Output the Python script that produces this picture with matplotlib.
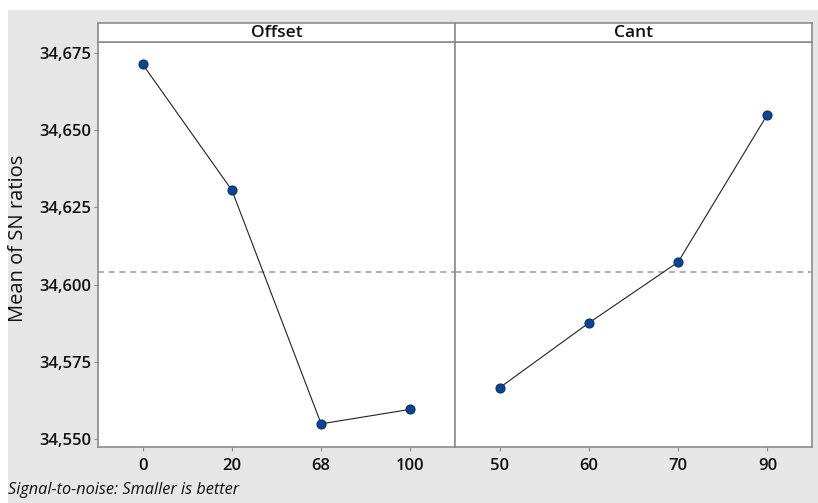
import numpy as np
import matplotlib.pyplot as plt

# Data
offset_levels = ['0', '20', '68', '100']
offset_sn = [34.6714, 34.6306, 34.5549, 34.5596]
cant_levels = ['50', '60', '70', '90']
cant_sn = [34.5666, 34.5876, 34.6073, 34.6551]
overall_mean = 34.6041
yticks = [34.550, 34.575, 34.600, 34.625, 34.650, 34.675]

W, H = 818, 503
fig = plt.figure(figsize=(W / 100, H / 100), dpi=100)
fig.patch.set_facecolor('white')
plt.rcParams['font.family'] = ['Open Sans', 'DejaVu Sans']

# gray background panel
bg = fig.add_axes([8 / W, 0, 1 - 8 / W, 1 - 10 / H])
bg.set_facecolor('#e6e6e6')
bg.set_xticks([])
bg.set_yticks([])
for s in bg.spines.values():
    s.set_visible(False)
bg.set_zorder(-10)

def px(x0, y0, x1, y1):
    return [x0 / W, 1 - y1 / H, (x1 - x0) / W, (y1 - y0) / H]

edge = '#8c8c8c'
txt = '#111111'
panels = [('Offset', offset_levels, offset_sn, 98, 455),
          ('Cant', cant_levels, cant_sn, 455, 812)]

for i, (name, levels, vals, x0, x1) in enumerate(panels):
    ax = fig.add_axes(px(x0, 42, x1, 447))
    ax.set_facecolor('white')
    pos = np.arange(1, len(levels) + 1)
    ax.axhline(overall_mean, color='#9a9a9a', ls=(0, (4, 3)), lw=1.1, zorder=1)
    ax.plot(pos, vals, color='#222222', lw=0.8, zorder=2)
    ax.plot(pos, vals, 'o', ms=6.5, mfc='#0a4595', mec='#06306e', mew=0.8, zorder=3)
    ax.set_xlim(0.5, 4.5)
    ax.set_ylim(34.5474, 34.6786)
    ax.set_xticks(pos)
    ax.set_xticklabels(levels, fontsize=12, fontweight='semibold', color=txt)
    for s in ax.spines.values():
        s.set_color(edge)
        s.set_linewidth(1.2)
    ax.tick_params(axis='x', length=3, color=edge, pad=5)
    if i == 0:
        ax.set_yticks(yticks)
        ax.set_yticklabels([f'{v:.3f}'.replace('.', ',') for v in yticks],
                           fontsize=12, fontweight='semibold', color=txt)
        ax.tick_params(axis='y', length=3, color=edge, pad=2)
    else:
        ax.set_yticks([])

    strip = fig.add_axes(px(x0, 23, x1, 42))
    strip.set_facecolor('white')
    strip.set_xticks([])
    strip.set_yticks([])
    for s in strip.spines.values():
        s.set_color(edge)
        s.set_linewidth(1.2)
    strip.text(0.5, 0.45, name, ha='center', va='center', fontsize=12.5,
               fontweight='semibold', color=txt, transform=strip.transAxes)

fig.text(18 / W, 1 - 238 / H, 'Mean of SN ratios', rotation=90, ha='center',
         va='center', fontsize=14.5, fontweight='medium', color=txt)
fig.text(8 / W, 1 - 490 / H, 'Signal-to-noise: Smaller is better', ha='left',
         va='center', fontsize=11.7, style='italic', color=txt)

fig.savefig('out.png', dpi=100)
